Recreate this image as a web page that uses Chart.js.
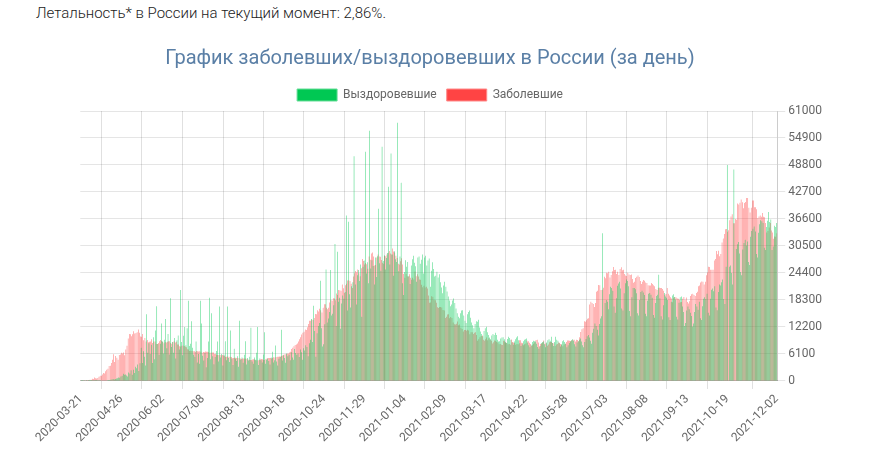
<!DOCTYPE html>
<html><head><meta charset="utf-8">
<script src="https://cdn.jsdelivr.net/npm/chart.js@4"></script>
<style>
html,body{margin:0;padding:0;background:#fff;}
#top{position:absolute;left:36px;top:4px;font:300 15px Roboto, sans-serif;color:#222;white-space:nowrap;}
#wrap{position:absolute;left:35px;top:34px;width:790px;height:429px;}
</style></head><body>
<div id="top">Летальность* в России на текущий момент: 2,86%.</div>
<div id="wrap"><canvas id="c"></canvas></div>
<script>
const startDate = '2020-03-21';
const tickDates = ['2020-03-21','2020-04-26','2020-06-02','2020-07-08','2020-08-13','2020-09-18','2020-10-24','2020-11-29','2021-01-04','2021-02-09','2021-03-17','2021-04-22','2021-05-28','2021-07-03','2021-08-08','2021-09-13','2021-10-19','2021-12-02'];
const seriesNames = ['Выздоровевшие','Заболевшие'];
const yTicks = [0,6100,12200,18300,24400,30500,36600,42700,48800,54900,61000];

const infected = [
53,61,71,57,163,182,196,228,270,302,501,
440,771,601,582,658,954,1154,1175,1459,1786,1667,2186,2558,2774,3388,3448,4070,4785,6060,4268,5642,5236,4774,5849,5966,6361,6198,6411,5841,7099,
7933,9623,10633,10581,10102,10559,11231,10699,10817,11012,11656,10899,10028,9974,10598,9200,9709,8926,9263,8764,8849,8894,9434,8599,8946,8915,8338,8371,8572,8952,9268,
9035,8863,8536,8831,8705,8855,8984,8985,8595,8404,8779,8987,8706,8835,8246,8248,7843,7790,7972,8007,7889,7728,7600,7176,7113,6800,6852,6791,6719,6693,
6556,6760,6718,6632,6736,6611,6368,6562,6509,6635,6611,6615,6537,6248,6422,6428,6406,6109,6139,5940,5842,5862,5848,5811,5871,5765,5635,5395,5475,5509,5482,
5462,5427,5159,5204,5267,5241,5212,5189,5118,5102,4945,5057,5066,5061,5083,5041,4839,4718,4748,4767,4870,4921,4852,4696,4676,4711,4744,4829,4980,4897,4729,
4729,4952,5110,5185,5205,5195,5099,5185,5363,5310,5406,5449,5488,5509,5529,5670,5762,5905,6065,6148,6196,6215,6431,6595,7212,7523,7867,8135,8232,8481,
8945,9412,9859,10499,10888,11115,11615,11493,12126,12846,13634,13592,13868,13754,14231,15150,15099,15982,15700,16319,15971,15497,16521,17347,17340,16550,16202,16541,17717,18283,18140,
18665,18648,18257,19768,19404,20582,20498,20396,21798,20977,19851,21608,21983,22702,22778,22572,21983,20985,23610,24318,24822,24581,25173,24326,23675,25487,27543,27100,26338,26683,
26402,25345,28145,27403,28782,29039,28142,26097,26190,27927,28585,28137,28080,27328,26689,26509,28214,28209,28552,28948,29350,28776,28552,29935,29258,29018,28284,27787,26513,26301,27039,
27747,26301,24150,23351,24246,23652,23541,24092,23309,22851,23315,22934,24763,23652,24092,23586,22934,22857,21734,21152,21513,21127,21262,20921,19290,17648,17741,19138,19032,18359,18241,
17648,16643,16474,16714,16688,16627,16048,15916,14207,14494,15038,15077,14185,14445,14207,13233,12828,12742,12953,13447,12604,12742,12048,11749,11198,11534,11534,11359,
11571,11385,10565,11022,11024,10595,10869,11024,10407,9079,9437,9908,10146,10253,9327,9079,9437,9801,9215,9646,9299,9088,8457,8769,9128,9073,8885,8711,8277,8328,8162,
8156,9073,8995,8646,8646,8294,8328,8173,9384,8810,8702,8589,8173,8328,8271,9199,9224,8632,8589,8053,8271,8457,9073,8995,8646,8367,7916,8053,8417,8731,
9270,9328,8697,7770,8329,8407,8618,9159,8419,8536,7970,8217,8747,8788,8790,8554,8505,7920,8217,8380,8676,8632,8371,8195,7873,8246,8425,8787,9167,9145,9083,
9034,9145,9327,9301,8947,9289,9252,8985,9868,11057,11699,11901,13510,13397,13721,14057,14185,17262,17906,17611,17378,16715,17594,20182,20393,21665,21650,20538,20616,21042,
23543,23218,24439,24353,24702,23378,23962,24818,25766,25082,25116,24166,24702,23962,25293,25704,25018,25155,24166,23811,23704,24471,24072,23947,24072,23032,22195,22420,23270,23564,23807,
23508,22589,21932,22420,22804,22660,22277,22160,21624,21571,21571,22144,21932,21624,21378,20765,20564,21058,21058,21000,20992,20765,20402,19509,19630,20992,19706,19286,18925,18645,17813,
18780,18985,18856,18645,18555,18341,17813,17856,18554,18985,18380,18841,17837,17523,18020,19185,19594,19706,19442,19179,19905,20174,21379,21559,22236,22498,22430,21804,22430,23888,
24522,25781,25769,25110,25133,25133,27246,27550,29362,28647,29409,28190,28717,31299,32196,33208,34303,34325,33740,34073,36339,37141,37678,35660,35660,36582,36446,40096,39849,40251,40993,
40402,39008,40217,40443,41335,41335,39165,38058,39160,40759,40759,39256,39256,38823,36818,37156,37374,37120,37930,37120,36970,35681,33558,33860,34690,35681,33996,33558,32136,32648,
32602,33389
];

const recovered = [
0,5,1,3,0,2,0,7,16,5,22,
2,21,22,13,33,37,47,69,80,107,90,118,121,173,224,212,269,381,426,334,454,567,612,770,725,1002,1197,1626,1402,1470,
1230,1010,1940,1700,2440,1400,2550,1800,3200,2850,3710,2270,4000,7500,4080,6730,5500,3500,15100,6400,8500,6100,8200,4050,9900,4900,11400,16900,8350,5900,8400,
13000,8900,6200,9300,14000,7400,10600,6000,18700,7700,8800,6400,9700,5100,9200,10300,7100,20550,8800,5800,10200,12200,8100,11900,18100,7900,8400,13500,7500,5900,
5500,8900,4200,6100,3900,18150,13000,5700,4600,6300,3100,5200,8900,18800,4900,15300,5600,3800,5400,6800,8900,4400,16800,5300,6100,3500,5900,9000,4700,16800,5200,
4300,11400,5100,3600,7300,5000,4500,5600,3200,13600,4800,5300,4100,5900,9000,3700,5200,4600,5500,12000,4400,3900,5300,4800,6400,12200,3600,5100,4700,4200,6000,
11000,3900,4800,5100,4500,3700,5300,6600,4200,4700,8000,4400,3500,5000,5400,11600,4600,5800,5200,4100,6200,5600,5900,4700,6500,5300,4800,7200,6300,5900,
6200,5400,7100,6500,4800,7400,6900,8100,7700,5600,8500,9300,14000,8800,17000,11300,5500,10800,12400,13100,22650,11900,7800,8300,12800,25200,13200,14100,15600,25100,14800,
15200,17100,30950,12400,29200,17900,18800,11800,17500,19300,18600,20100,37400,15900,36000,19600,16600,21400,22300,50800,21800,17300,23900,25100,22600,26300,14500,25800,27200,51800,
24300,26800,22100,56550,25400,27300,26000,21800,27900,23500,28200,38900,26600,24900,52900,27100,28400,25200,27800,28900,43900,26300,51400,28600,23800,29300,27500,26900,58350,24800,28100,
44800,22100,19400,24600,27300,25800,26900,23700,21900,26100,27500,28300,26700,25900,22400,27900,28100,26500,27400,28600,24300,27900,28300,26100,27200,27700,21300,24900,26800,25300,23600,
23800,24700,23400,24100,22300,21100,19800,21600,22400,21300,20200,19100,18200,16900,17300,18200,18650,17600,16400,15300,14500,14200,15300,15900,16000,14800,13600,13100,
15100,15600,15900,14300,13200,12600,11900,12900,13500,13400,13850,12100,11200,10600,10100,11300,11900,12250,11000,10400,9800,9400,10300,10600,10400,10900,10400,9300,8900,9000,9600,
9800,9900,9400,8800,8600,9500,10000,9700,9300,8700,8200,8900,9400,9800,10100,9200,8500,7900,8300,9000,9300,9400,9600,8700,8100,7600,8200,8800,9100,9000,
8900,8400,7700,7300,7900,8600,8800,8900,8300,7600,8700,9200,9400,9100,10000,8600,7900,8800,10000,9300,9100,8500,7800,8300,9000,9200,8800,8400,7600,8100,8600,
8900,9200,9400,9100,8300,7800,8700,9000,9300,9600,8900,8100,7600,8800,9500,10100,10400,9800,9100,8400,10900,11800,13000,12400,11600,10300,12900,14100,14600,33350,
0,17600,18300,17900,16200,19600,21300,21000,20400,16800,15400,18700,21500,22000,22400,20900,16400,15900,19800,22100,22900,22600,21400,15800,14600,18900,21000,21000,20700,19800,15300,
14800,18300,20100,20400,20000,19400,15200,14600,18100,19700,19900,19500,18800,14900,14300,17600,19200,19500,24000,18700,14600,13900,17100,19900,19100,18800,18300,14400,13800,17900,19300,
19600,19000,18400,14500,13900,17700,18900,19100,16800,15600,12400,13100,15900,16800,16200,15400,14700,12300,13000,15600,17400,16800,16100,17900,14200,13800,16900,18600,18900,18500,
19700,15400,14800,18600,20600,20900,20300,21400,16600,16000,20100,21800,21600,22300,22900,18500,17400,25800,48800,0,25800,26100,24400,21800,47800,0,29800,30900,31400,28800,24600,
23900,29700,31200,31900,30600,31500,26900,26200,32600,33900,34400,34900,33800,28700,27900,33500,35400,36300,36100,35700,30100,29600,34800,36200,38200,35900,36500,29600,30400,35100,
34800,35700
];

// category labels: consecutive days from startDate
const labels = [];
{
  const d0 = new Date(startDate + 'T00:00:00Z');
  for (let i = 0; i < infected.length; i++) {
    const d = new Date(d0.getTime() + i * 86400000);
    labels.push(d.toISOString().slice(0, 10));
  }
}
const tickSet = new Set(tickDates);
const FONT = 'Roboto, "Liberation Sans", sans-serif';

new Chart(document.getElementById('c'), {
  type: 'bar',
  data: {
    labels: labels,
    datasets: [
      { label: seriesNames[0], data: recovered, backgroundColor: '#00c853', borderWidth: 0 },
      { label: seriesNames[1], data: infected, backgroundColor: '#ff4444', borderWidth: 0 }
    ]
  },
  options: {
    responsive: true,
    maintainAspectRatio: false,
    animation: false,
    layout: { padding: { left: 0, right: 0, top: 0, bottom: 15 } },
    plugins: {
      title: {
        display: true,
        text: 'График заболевших/выздоровевших в России (за день)',
        color: '#5a7fa6',
        font: { size: 20, family: FONT, weight: 'normal' },
        padding: { top: 13, bottom: 8 }
      },
      legend: {
        labels: {
          color: '#666',
          font: { size: 12, family: FONT },
          boxWidth: 40,
          boxHeight: 12,
          generateLabels: (chart) => chart.data.datasets.map((ds, i) => ({
            text: ds.label,
            fillStyle: ds.backgroundColor,
            strokeStyle: i === 0 ? '#66dd98' : '#ff8a8a',
            fontColor: '#666',
            lineWidth: 1,
            hidden: !chart.isDatasetVisible(i),
            datasetIndex: i
          }))
        }
      },
      tooltip: { enabled: false }
    },
    scales: {
      x: {
        grid: { color: 'rgba(0,0,0,0.12)' },
        border: { color: 'rgba(0,0,0,0.2)' },
        ticks: {
          autoSkip: false,
          minRotation: 45,
          maxRotation: 45,
          color: '#666',
          font: { size: 12, family: FONT },
          callback: function (v, i) { return tickSet.has(labels[i]) ? labels[i] : null; }
        }
      },
      y: {
        position: 'right',
        min: 0,
        max: yTicks[yTicks.length - 1],
        grid: { color: 'rgba(0,0,0,0.1)' },
        border: { color: 'rgba(0,0,0,0.2)' },
        afterBuildTicks: (axis) => { axis.ticks = yTicks.map(v => ({ value: v })); },
        ticks: {
          color: '#666',
          font: { size: 12, family: FONT },
          callback: (v) => String(v)
        }
      }
    }
  }
});
</script>
</body></html>
